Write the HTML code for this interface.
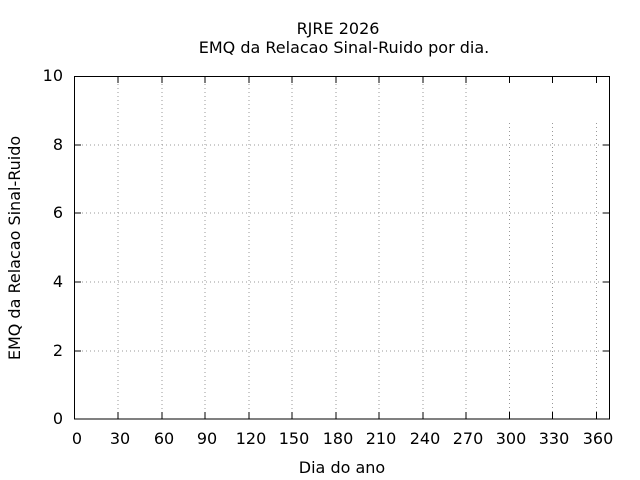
<!DOCTYPE html>
<html><head><style>body{margin:0;background:#fff}svg{display:block}</style></head><body>
<svg width="640" height="480" xmlns="http://www.w3.org/2000/svg" font-family="DejaVu Sans, sans-serif" font-size="16">
<rect width="640" height="480" fill="#fff"/>
<g stroke="#999" stroke-width="1" stroke-dasharray="1,3">
<line x1="118" y1="76" x2="118" y2="419"/>
<line x1="162" y1="76" x2="162" y2="419"/>
<line x1="205" y1="76" x2="205" y2="419"/>
<line x1="249" y1="76" x2="249" y2="419"/>
<line x1="292" y1="76" x2="292" y2="419"/>
<line x1="336" y1="76" x2="336" y2="419"/>
<line x1="379" y1="76" x2="379" y2="419"/>
<line x1="423" y1="76" x2="423" y2="419"/>
<line x1="466" y1="76" x2="466" y2="419"/>
<line x1="509.5" y1="123" x2="509.5" y2="419"/>
<line x1="552.5" y1="123" x2="552.5" y2="419"/>
<line x1="596.5" y1="123" x2="596.5" y2="419"/>
<line x1="74" y1="145" x2="610" y2="145"/>
<line x1="74" y1="213" x2="610" y2="213"/>
<line x1="74" y1="282" x2="610" y2="282"/>
<line x1="74" y1="351" x2="610" y2="351"/>
</g>
<g stroke="#000" stroke-width="1">
<rect x="74.5" y="76.5" width="535" height="342.5" fill="none"/>
<path d="M118 419v-7M162 419v-7M205 419v-7M249 419v-7M292 419v-7M336 419v-7M379 419v-7M423 419v-7M466 419v-7M509.5 419v-7M552.5 419v-7M596.5 419v-7
M118 76v7M162 76v7M205 76v7M249 76v7M292 76v7M336 76v7M379 76v7M423 76v7M466 76v7M509.5 76v7M552.5 76v7M596.5 76v7
M74 145h7M74 213h7M74 282h7M74 351h7M610 145h-7M610 213h-7M610 282h-7M610 351h-7"/>
</g>
<g text-anchor="end">
<text x="63" y="424">0</text><text x="63" y="356">2</text><text x="63" y="287">4</text><text x="63" y="218">6</text><text x="63" y="150">8</text><text x="63" y="81">10</text>
</g>
<g text-anchor="middle">
<text x="77" y="444">0</text><text x="120" y="444">30</text><text x="164" y="444">60</text><text x="207" y="444">90</text><text x="251" y="444">120</text><text x="294" y="444">150</text><text x="338" y="444">180</text><text x="381" y="444">210</text><text x="425" y="444">240</text><text x="468" y="444">270</text><text x="511" y="444">300</text><text x="554" y="444">330</text><text x="598" y="444">360</text>
<text x="342" y="473">Dia do ano</text>
<text x="338" y="34">RJRE 2026</text>
<text x="344" y="53">EMQ da Relacao Sinal-Ruido por dia.</text>
<text transform="translate(20,248) rotate(-90)">EMQ da Relacao Sinal-Ruido</text>
</g>
</svg>
</body></html>
